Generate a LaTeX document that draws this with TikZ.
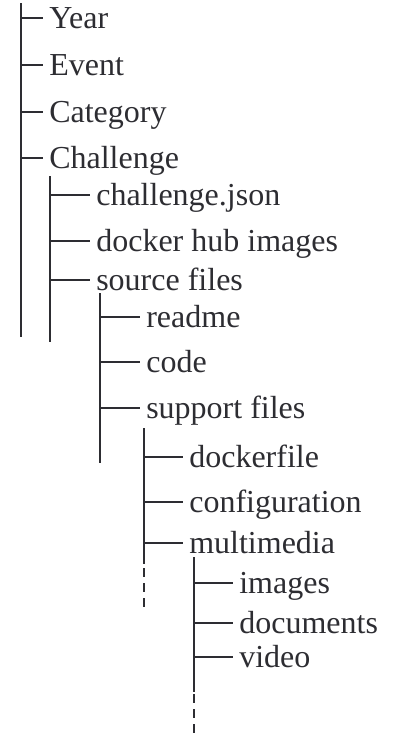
\documentclass[tikz,border=0pt]{standalone}
\usepackage{fontspec}
\setmainfont{Liberation Serif}
\definecolor{treegray}{RGB}{45,45,50}

\begin{document}
\begin{tikzpicture}[x=1pt,y=-1pt,line width=2.6pt,draw=treegray,
	entry/.style={anchor=west,inner xsep=5pt,inner ysep=0pt,text height=22pt,text depth=2pt,font=\fontsize{32}{38}\selectfont,text=treegray},
	tail/.style={dash pattern=on 9pt off 6pt}]
			\useasboundingbox (0,0) rectangle (395,736);
			
			% trunks of the five levels
			\coordinate (t0) at (21,3);
			\coordinate (t0end) at (21,337);
			\coordinate (t1) at (50,176);
			\coordinate (t1end) at (50,342);
			\coordinate (t2) at (100,293);
			\coordinate (t2end) at (100,463);
			\coordinate (t3) at (144,428);
			\coordinate (t3mid) at (144,564);
			\coordinate (t3dash) at (144,568);
			\coordinate (t3end) at (144,608);
			\coordinate (t4) at (194,557);
			\coordinate (t4mid) at (194,692);
			\coordinate (t4dash) at (194,694);
			\coordinate (t4end) at (194,736);
			
			\draw (t0)--(t0end);
			\draw (t1)--(t1end);
			\draw (t2)--(t2end);
			\draw (t3)--(t3mid);
			\draw[tail] (t3dash)--(t3end);
			\draw (t4)--(t4mid);
			\draw[tail] (t4dash)--(t4end);
			
			% level 0
			\node[entry] (year) at (43,18) {Year};
			\node[entry] (event) at (43,65) {Event};
			\node[entry] (category) at (43,112) {Category};
			\node[entry] (challenge) at (43,158) {Challenge};
			
			% level 1
			\node[entry] (json) at (90,195) {challenge.json};
			\node[entry] (docker) at (90,241) {docker hub images};
			\node[entry] (source) at (90,280) {source files};
			
			% level 2
			\node[entry] (readme) at (140,317) {readme};
			\node[entry] (code) at (140,362) {code};
			\node[entry] (support) at (140,408) {support files};
			
			% level 3
			\node[entry] (dockerfile) at (183,457) {dockerfile};
			\node[entry] (config) at (183,502) {configuration};
			\node[entry] (multimedia) at (183,543) {multimedia};
			
			% level 4
			\node[entry] (images) at (233,583) {images};
			\node[entry] (documents) at (233,623) {documents};
			\node[entry] (video) at (233,657) {video};
			
			\draw (t0 |- year.west)--(year.west);
			\draw (t0 |- event.west)--(event.west);
			\draw (t0 |- category.west)--(category.west);
			\draw (t0 |- challenge.west)--(challenge.west);
			
			\draw (t1 |- json.west)--(json.west);
			\draw (t1 |- docker.west)--(docker.west);
			\draw (t1 |- source.west)--(source.west);
			
			\draw (t2 |- readme.west)--(readme.west);
			\draw (t2 |- code.west)--(code.west);
			\draw (t2 |- support.west)--(support.west);
			
			\draw (t3 |- dockerfile.west)--(dockerfile.west);
			\draw (t3 |- config.west)--(config.west);
			\draw (t3 |- multimedia.west)--(multimedia.west);
			
			\draw (t4 |- images.west)--(images.west);
			\draw (t4 |- documents.west)--(documents.west);
			\draw (t4 |- video.west)--(video.west);
		\end{tikzpicture}
\end{document}
